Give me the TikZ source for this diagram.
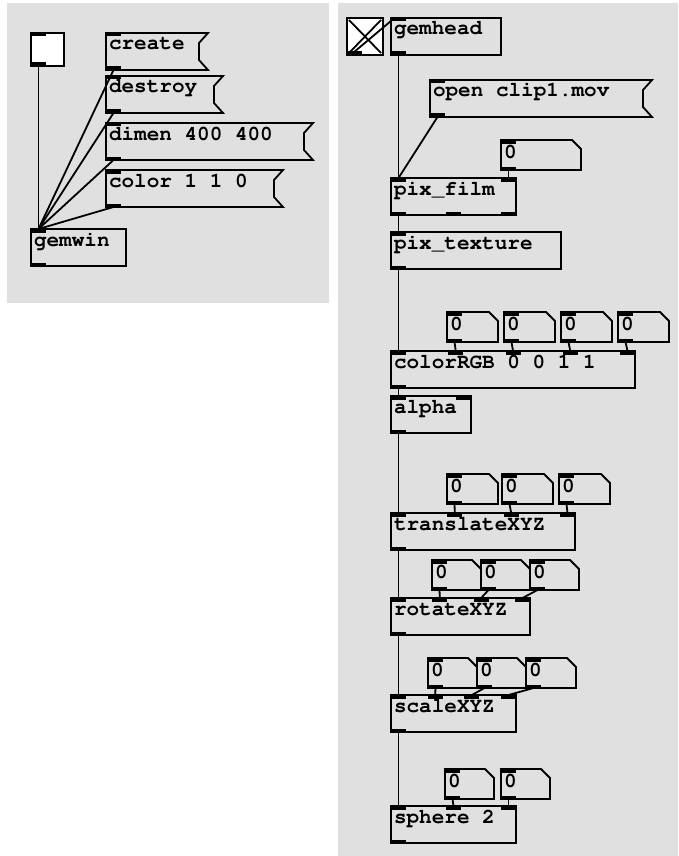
\documentclass[tikz,border=0pt]{standalone}
\usepackage[T1]{fontenc}
\usepackage{courier}
\usetikzlibrary{calc}
\definecolor{canvas}{RGB}{224,224,224}
\newcommand\pdfont{\fontsize{21}{21}\ttfamily\bfseries\selectfont\fontdimen2\font=0.6em\spaceskip=0.6em\relax}
% inlet and outlet bars, with coordinates name-i1.., name-o1..
\newcommand\pdports[3]{%
  \ifnum#2>0
  \foreach \k in {1,...,#2}{%
    \pgfmathsetmacro\pdfrac{(\k-1)/max(#2-1,1)}%
    \coordinate (#1-i\k) at ($([xshift=7.5pt]#1.north west)!\pdfrac!([xshift=-7.5pt]#1.north east)$);
    \fill ([xshift=-7.5pt]#1-i\k) rectangle ([xshift=7.5pt,yshift=-3.5pt]#1-i\k);
  }\fi
  \ifnum#3>0
  \foreach \k in {1,...,#3}{%
    \pgfmathsetmacro\pdfrac{(\k-1)/max(#3-1,1)}%
    \coordinate (#1-o\k) at ($([xshift=7.5pt]#1.south west)!\pdfrac!([xshift=-7.5pt]#1.south east)$);
    \fill ([xshift=-7.5pt]#1-o\k) rectangle ([xshift=7.5pt,yshift=3.5pt]#1-o\k);
  }\fi
}
\tikzset{
  pdwire/.style={line width=1.8pt},
  pdobj/.style={draw, line width=1.8pt, outer sep=0pt, anchor=north west,
    inner xsep=3pt, inner ysep=2pt, text height=15pt, text depth=18pt,
    minimum width=#1, text width=#1-6pt, font=\pdfont,
    execute at begin node={\spaceskip=0.6em\relax}},
  pdmsg/.style={pdobj=#1, draw=none},
  pdnum/.style={pdobj=#1, draw=none, inner ysep=1pt, text height=17pt, text depth=11pt},
  pdgui/.style={draw, fill=white, line width=1.8pt, outer sep=0pt, anchor=north west, inner sep=0pt},
}
\begin{document}
\begin{tikzpicture}[x=1pt,y=-1pt]
\useasboundingbox (0,0) rectangle (678,856);
\fill[canvas] (7,3) rectangle (329,303);
\fill[canvas] (338,3) rectangle (678,856);

% window patch
\node[pdgui, minimum width=33, minimum height=33] (bng) at (31,33) {};
\node[pdmsg=102] (create) at (106,33) {create};
\node[pdmsg=117] (destroy) at (106,76) {destroy};
\node[pdmsg=207] (dimen) at (106,123) {dimen 400 400};
\node[pdmsg=177] (color) at (106,170) {color 1 1 0};
\node[pdobj=95] (gemwin) at (31,229) {gemwin};

% render chain
\node[pdgui, minimum width=36, minimum height=37] (tgl) at (347,18) {};
\draw[pdwire] ([shift={(2pt,-2pt)}]tgl.north west) -- ([shift={(-2pt,2pt)}]tgl.south east)
  ([shift={(-2pt,-2pt)}]tgl.north east) -- ([shift={(2pt,2pt)}]tgl.south west);
\node[pdobj=110] (gemhead) at (391,18) {gemhead};
\node[pdmsg=222] (openmsg) at (430,80) {open clip1.mov};
\node[pdnum=80] (filmnum) at (501,140) {0};
\node[pdobj=125] (pixfilm) at (391,178) {pix\_film};
\node[pdobj=170] (pixtex) at (391,232) {pix\_texture};
\foreach \k in {1,...,4}
  \node[pdnum=51] (crgbnum\k) at ({447+57*(\k-1)},312) {0};
\node[pdobj=244] (crgb) at (391,351) {colorRGB 0 0 1 1};
\node[pdobj=80] (alpha) at (391,396) {alpha};
\node[pdnum=51] (transnum1) at (447,474) {0};
\node[pdnum=51] (transnum2) at (502,474) {0};
\node[pdnum=51] (transnum3) at (559,474) {0};
\node[pdobj=184] (trans) at (391,513) {translateXYZ};
\node[pdnum=49] (rotnum1) at (432,560) {0};
\node[pdnum=49] (rotnum2) at (481,560) {0};
\node[pdnum=49] (rotnum3) at (530,560) {0};
\node[pdobj=139] (rot) at (391,598) {rotateXYZ};
\node[pdnum=49] (scalenum1) at (428,658) {0};
\node[pdnum=49] (scalenum2) at (477,658) {0};
\node[pdnum=50] (scalenum3) at (526,658) {0};
\node[pdobj=125] (scale) at (391,695) {scaleXYZ};
\node[pdnum=49] (spherenum1) at (445,769) {0};
\node[pdnum=49] (spherenum2) at (501,769) {0};
\node[pdobj=125] (sphere) at (391,806) {sphere 2};

% message and number box outlines
\foreach \m in {create,destroy,dimen,color,openmsg}{
  \draw[pdwire] (\m.north west) -- (\m.north east) -- ([shift={(-9pt,-10pt)}]\m.north east)
    -- ([shift={(-9pt,10pt)}]\m.south east) -- (\m.south east) -- (\m.south west) -- cycle;
}
\foreach \nb in {filmnum,crgbnum1,crgbnum2,crgbnum3,crgbnum4,transnum1,transnum2,transnum3,
    rotnum1,rotnum2,rotnum3,scalenum1,scalenum2,scalenum3,spherenum1,spherenum2}{
  \draw[pdwire] (\nb.north west) -- ([xshift=-9pt]\nb.north east) -- ([yshift=-9pt]\nb.north east)
    -- (\nb.south east) -- (\nb.south west) -- cycle;
  \pdports{\nb}{1}{1}
}

% ports
\foreach \o in {bng,create,destroy,dimen,color,gemwin,gemhead,openmsg,pixtex}{
  \pdports{\o}{1}{1}
}
\pdports{tgl}{0}{1}
\pdports{pixfilm}{2}{3}
\pdports{crgb}{5}{1}
\pdports{alpha}{2}{1}
\pdports{trans}{4}{1}
\pdports{rot}{4}{1}
\pdports{scale}{4}{1}
\pdports{sphere}{3}{1}

% wires
\foreach \m in {bng,create,destroy,dimen,color}
  \draw[pdwire] (\m-o1) -- (gemwin-i1);
\draw[pdwire] ([xshift=-4pt]tgl-o1) -- ([xshift=-4pt]gemhead-i1);
\draw[pdwire] (openmsg-o1) -- (pixfilm-i1);
\draw[pdwire] (filmnum-o1) -- (pixfilm-i2);
\foreach \a/\b in {gemhead/pixfilm,pixfilm/pixtex,pixtex/crgb,crgb/alpha,alpha/trans,trans/rot,rot/scale,scale/sphere}
  \draw[pdwire] (\a-o1) -- (\b-i1);
\foreach \k/\j in {1/2,2/3,3/4,4/5}
  \draw[pdwire] (crgbnum\k-o1) -- (crgb-i\j);
\foreach \k/\j in {1/2,2/3,3/4}{
  \draw[pdwire] (transnum\k-o1) -- (trans-i\j);
  \draw[pdwire] (rotnum\k-o1) -- (rot-i\j);
  \draw[pdwire] (scalenum\k-o1) -- (scale-i\j);
}
\foreach \k/\j in {1/2,2/3}
  \draw[pdwire] (spherenum\k-o1) -- (sphere-i\j);
\end{tikzpicture}
\end{document}
